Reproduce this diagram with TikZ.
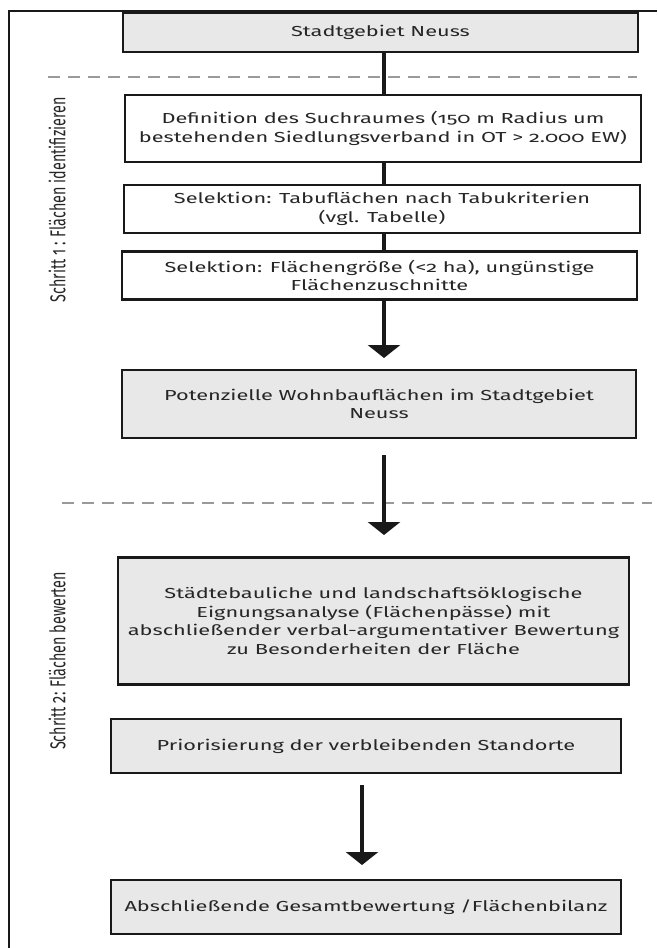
\documentclass[tikz,border=0pt]{standalone}
\usepackage{fontspec}
\setmainfont{Fira Sans}[Numbers=OldStyle, FakeStretch=1.5]
\newfontfamily\sidefont{Fira Sans}[Numbers=OldStyle, FakeStretch=0.667]
\usetikzlibrary{arrows.meta}
\definecolor{boxgray}{HTML}{E8E8E8}
\definecolor{dashgray}{HTML}{9A9A9A}
\definecolor{txt}{HTML}{262626}
\tikzset{
  flowbox/.style={draw=black!90, line width=2.5pt, inner sep=0pt, align=center,
    text=txt, font=\fontsize{14.5pt}{18.5pt}\selectfont},
  graybox/.style={flowbox, fill=boxgray},
  whitebox/.style={flowbox, fill=white},
  conn/.style={draw=black!90, line width=4.5pt},
  arr/.style={conn, -{Triangle[width=32pt,length=13pt]}},
  divider/.style={draw=dashgray, line width=2.5pt, dash pattern=on 12pt off 8pt},
  sidelabel/.style={rotate=90, text=txt, font=\sidefont\fontsize{21.5pt}{24pt}\selectfont, inner sep=0pt}
}
\begin{document}
\begin{tikzpicture}[x=1pt,y=-1pt]
\useasboundingbox (0,0) rectangle (657,948);
% outer frame
\draw[line width=2.5pt, black!90] (9,948) -- (9,11) -- (657,11);

% dividers
\draw[divider] (48,77) -- (637,77);
\draw[divider] (62,503) -- (652,503);

% boxes
\node[graybox, minimum width=515pt, minimum height=39pt] (b1) at (380.5,32.5) {Stadtgebiet Neuss};
\node[whitebox, minimum width=516pt, minimum height=67pt] (b2) at (383,128.5)
  {Definition des Suchraumes (150 m Radius um\\bestehenden Siedlungsverband in OT > 2.000 EW)};
\node[whitebox, minimum width=516pt, minimum height=48pt] (b3) at (382,209)
  {Selektion: Tabuflächen nach Tabukriterien\\(vgl. Tabelle)};
\node[whitebox, minimum width=515pt, minimum height=48pt] (b4) at (379.5,275.5)
  {Selektion: Flächengröße (<2 ha), ungünstige\\Flächenzuschnitte};
\node[graybox, minimum width=514pt, minimum height=68pt] (b5) at (379,404)
  {Potenzielle Wohnbauflächen im Stadtgebiet\\Neuss};
\node[graybox, minimum width=511pt, minimum height=127pt] (b6) at (373.5,621)
  {Städtebauliche und landschaftsöklogische\\Eignungsanalyse (Flächenpässe) mit\\abschließender verbal-argumentativer Bewertung\\zu Besonderheiten der Fläche};
\node[graybox, minimum width=510pt, minimum height=54pt] (b7) at (366,746)
  {Priorisierung der verbleibenden Standorte};
\node[graybox, minimum width=510pt, minimum height=54pt] (b8) at (366,907)
  {Abschließende Gesamtbewertung /Flächenbilanz};

% side labels
\node[sidelabel] (l1) at (57,200) {Schritt 1 : Flächen identifizieren};
\node[sidelabel] (l2) at (57,661) {Schritt 2: Flächen bewerten};

% connectors
\coordinate (ax) at (384,0);
\draw[conn] (b1.south -| ax) -- (b2.north -| ax);
\draw[conn] (b2.south -| ax) -- (b3.north -| ax);
\draw[conn] (b3.south -| ax) -- (b4.north -| ax);
\coordinate (a1e) at (384,358);
\draw[arr] (b4.south -| ax) -- (a1e);
\coordinate (a2s) at (384,455);
\coordinate (a2e) at (384,535);
\draw[arr] (a2s) -- (a2e);
\coordinate (a3s) at (362,785);
\coordinate (a3e) at (362,865);
\draw[arr] (a3s) -- (a3e);
\end{tikzpicture}
\end{document}
